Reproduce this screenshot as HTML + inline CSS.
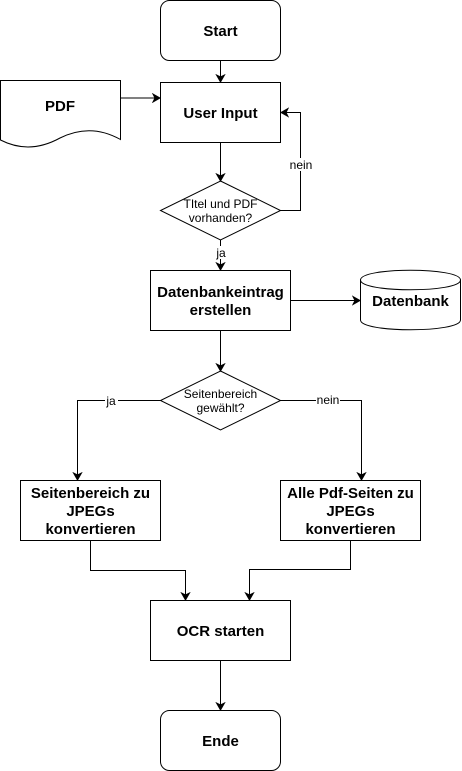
<!DOCTYPE html>
<html><head><style>html,body{margin:0;padding:0;background:#fff;}svg{display:block;}
text{font-family:"Liberation Sans",Arial,sans-serif;fill:#000;}
.b{font-weight:bold;font-size:15px;}
.s{font-size:12px;}</style></head><body>
<svg width="462" height="771" viewBox="0 0 462 771" xmlns="http://www.w3.org/2000/svg">
<defs><marker id="a" markerWidth="10" markerHeight="10" refX="8" refY="5" orient="auto" markerUnits="userSpaceOnUse"><path d="M1,1 L8,5 L1,9 L3,5 Z" fill="#000" stroke="#000" stroke-width="1"/></marker></defs>
<g fill="#fff" stroke="#000" stroke-width="1">
<rect x="160.5" y="0.5" width="120" height="60" rx="9"/>
<rect x="160.5" y="82.5" width="120" height="60"/>
<path d="M0.5,80.5 H120.5 V139.5 C100,128 80,128 60,138 C40,149 20,150 0.5,140 Z"/>
<path d="M220.5,181 L280.5,210.5 L220.5,240 L160.5,210.5 Z"/>
<rect x="150.5" y="270.5" width="140" height="60"/>
<path d="M360.5,280 C360.5,267 460.5,267 460.5,280 V320 C460.5,333 360.5,333 360.5,320 Z"/>
<path d="M360.5,280 C360.5,293 460.5,293 460.5,280"/>
<path d="M220.5,371 L280.5,400.5 L220.5,430 L160.5,400.5 Z"/>
<rect x="20.5" y="480.5" width="140" height="60"/>
<rect x="280.5" y="480.5" width="140" height="60"/>
<rect x="150.5" y="600.5" width="140" height="60"/>
<rect x="160.5" y="710.5" width="120" height="60" rx="9"/>
</g>
<g fill="none" stroke="#000" stroke-width="1" marker-end="url(#a)">
<path d="M220.5,60.5 V82"/>
<path d="M120.5,98 H160"/>
<path d="M220.5,142.5 V181"/>
<path d="M280.5,210.5 H300.5 V112.5 H281"/>
<path d="M220.5,240 V270"/>
<path d="M290.5,300.5 H360"/>
<path d="M220.5,330.5 V371"/>
<path d="M160.5,400.5 H77.5 V480"/>
<path d="M280.5,400.5 H361.5 V480"/>
<path d="M90.5,540.5 V570.5 H185.5 V600"/>
<path d="M350.5,540.5 V569.5 H249.5 V600"/>
<path d="M220.5,660.5 V710"/>
</g>
<rect x="289" y="158" width="24" height="13" fill="#fff"/>
<rect x="214" y="246" width="14" height="13" fill="#fff"/>
<rect x="105" y="394" width="13" height="13" fill="#fff"/>
<rect x="316" y="394" width="24" height="13" fill="#fff"/>
<g text-anchor="middle">
<text class="b" x="220.5" y="36">Start</text>
<text class="b" x="220.5" y="118">User Input</text>
<text class="b" x="60" y="111">PDF</text>
<text class="s" x="220.5" y="208">TItel und PDF</text>
<text class="s" x="220.5" y="222">vorhanden?</text>
<text class="s" x="301" y="169">nein</text>
<text class="s" x="221" y="257">ja</text>
<text class="b" x="220.5" y="297">Datenbankeintrag</text>
<text class="b" x="220.5" y="315">erstellen</text>
<text class="b" x="410.5" y="306">Datenbank</text>
<text class="s" x="220.5" y="398">Seitenbereich</text>
<text class="s" x="220.5" y="412">gewählt?</text>
<text class="s" x="111" y="405">ja</text>
<text class="s" x="328" y="404">nein</text>
<text class="b" x="90.5" y="498">Seitenbereich zu</text>
<text class="b" x="90.5" y="516">JPEGs</text>
<text class="b" x="90.5" y="534">konvertieren</text>
<text class="b" x="350.5" y="498">Alle Pdf-Seiten zu</text>
<text class="b" x="350.5" y="516">JPEGs</text>
<text class="b" x="350.5" y="534">konvertieren</text>
<text class="b" x="220.5" y="636">OCR starten</text>
<text class="b" x="220.5" y="746">Ende</text>
</g>
</svg>
</body></html>
